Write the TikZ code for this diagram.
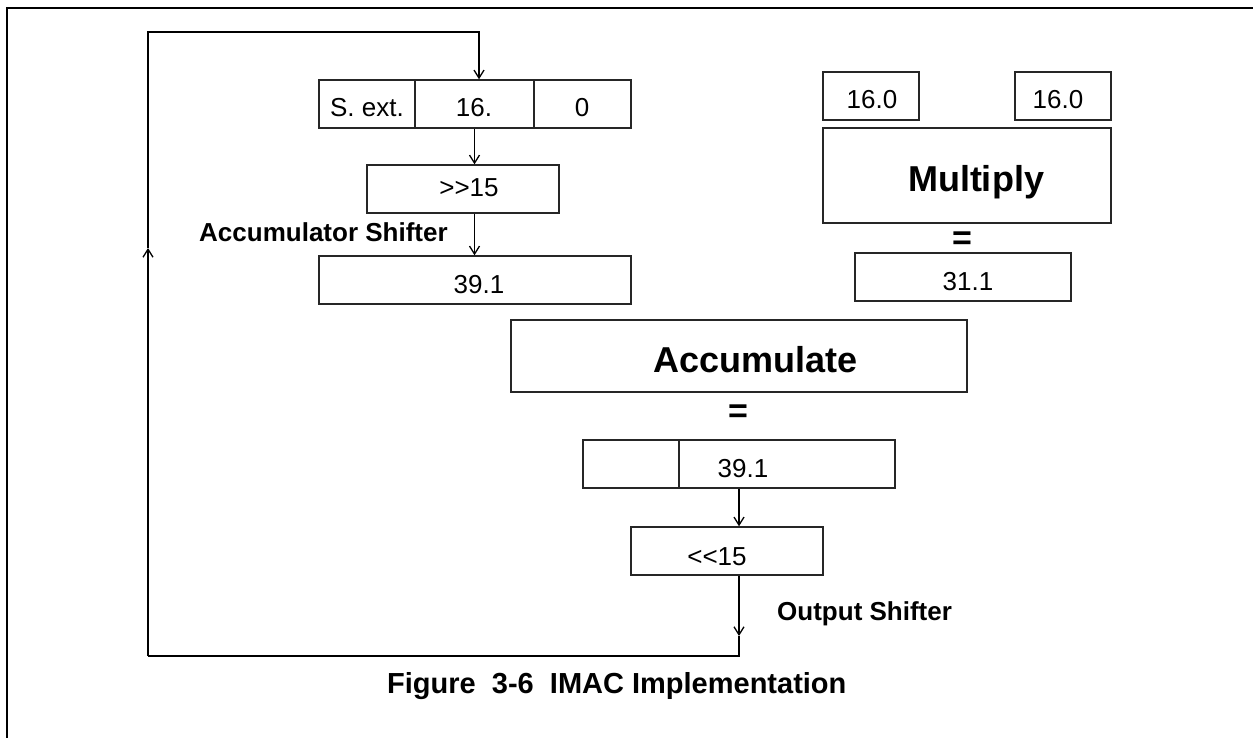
\documentclass[tikz,border=0pt]{standalone}
\usepackage{fontspec}
\setmainfont{Liberation Sans}
\usetikzlibrary{arrows.meta}
\begin{document}
\begin{tikzpicture}[x=1pt,y=-1pt,
  box/.style={draw=black!85, line width=1.4pt, inner sep=0pt},
  num/.style={font=\fontsize{26}{30}\selectfont, anchor=base, inner sep=0pt},
  big/.style={font=\bfseries\fontsize{36}{42}\selectfont, anchor=base, inner sep=0pt},
  eqsign/.style={font=\bfseries\fontsize{34}{40}\selectfont, anchor=center, inner sep=0pt},
  tag/.style={font=\bfseries\fontsize{26}{30}\selectfont, anchor=base west, inner sep=0pt},
  wire/.style={line width=1.3pt},
  arr/.style={wire, -{Straight Barb[length=8pt,width=10pt]}}]

\useasboundingbox (0,0) rectangle (1253,738);
% frame
\draw[line width=2pt] (7,738) -- (7,8) -- (1253,8);

% accumulator input register (sign extension | 16. | 0)
\node[box, minimum width=96pt,  minimum height=48pt] (sext) at (367,104) {};
\node[box, minimum width=119pt, minimum height=48pt] (mid)  at (474.5,104) {};
\node[box, minimum width=97pt,  minimum height=48pt] (zero) at (582.5,104) {};
\node[num] (tsext) at (367,117) {S. ext.};
\node[num] (tmid)  at (474,117) {16.};
\node[num] (tzero) at (582,117) {0};

% accumulator shifter
\node[box, minimum width=192pt, minimum height=48pt] (shr) at (463,189) {};
\node[num] (tshr) at (469,197) {>\kern0pt>15};
\node[tag] (tacs) at (199,242) {Accumulator Shifter};

% shifted accumulator
\node[box, minimum width=312pt, minimum height=48pt] (accl) at (475,280) {};
\node[num] (taccl) at (479,293) {39.1};

% multiplier operands and product
\node[box, minimum width=96pt, minimum height=48pt] (ma) at (871,96) {};
\node[box, minimum width=96pt, minimum height=48pt] (mb) at (1063,96) {};
\node[num] (tma) at (872,109) {16.0};
\node[num] (tmb) at (1058,109) {16.0};
\node[box, minimum width=288pt, minimum height=95pt] (mul) at (967,175.5) {};
\node[big] (tmul) at (976,192) {Multiply};
\node[eqsign] (eq1) at (962,241) {=};
\node[box, minimum width=216pt, minimum height=48pt] (prod) at (963,277) {};
\node[num] (tprod) at (968,290) {31.1};

% accumulate
\node[box, minimum width=456pt, minimum height=72pt] (acc) at (739,356) {};
\node[big] (tacc) at (755.5,372) {Accumulate};
\node[eqsign] (eq2) at (738,414) {=};

% result register
\node[box, minimum width=96pt,  minimum height=48pt] (resl) at (631,464) {};
\node[box, minimum width=216pt, minimum height=48pt] (resr) at (787,464) {};
\node[num] (tres) at (743,477) {39.1};

% output shifter
\node[box, minimum width=192pt, minimum height=48pt] (osh) at (727,551) {};
\node[num] (tosh) at (717,565) {<\kern0pt<15};
\node[tag] (tos) at (777,620) {Output Shifter};

% caption
\node[font=\bfseries\fontsize{29}{33}\selectfont, anchor=base west, inner sep=0pt]
  (cap) at (387,693) {Figure\ \ 3-6\ \ IMAC Implementation};

% data paths
\draw[arr] (mid.south) -- (shr.north -| mid.south);
\draw[arr] (shr.south -| mid.south) -- (accl.north -| mid.south);
\draw[arr] (resl.south -| acc.south) -- (osh.north -| acc.south);

% feedback loop
\coordinate (c1) at (739,656);
\coordinate (c2) at (148,656);
\coordinate (c3) at (148,32);
\coordinate (c4) at (479,32);
\coordinate (a1) at (739,636);
\coordinate (a2) at (148,248);
\draw[arr] (osh.south -| c1) -- (a1);
\draw[wire] (a1) -- (c1) -- (c2);
\draw[arr] (c2) -- (a2);
\draw[arr] (a2) -- (c3) -- (c4) -- (c4 |- mid.north);
\end{tikzpicture}
\end{document}
